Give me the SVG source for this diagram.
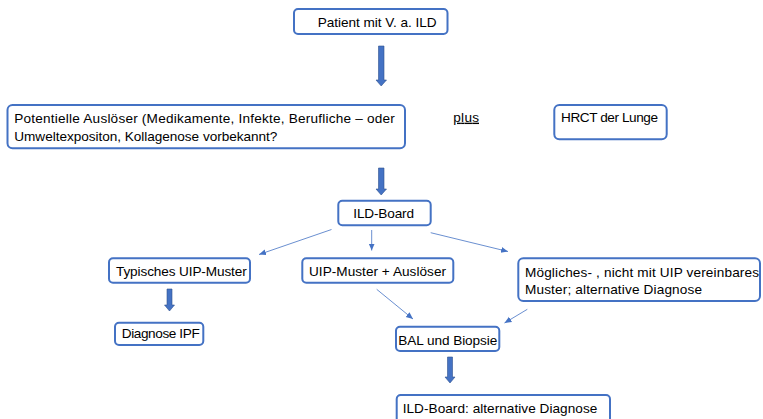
<svg xmlns="http://www.w3.org/2000/svg" width="763" height="419" viewBox="0 0 763 419">
<style>
.box{fill:#fff;stroke:#4472C4;stroke-width:2}
.t{font-family:"Liberation Sans","Open Sans",sans-serif;font-size:13.6px;fill:#000}
.thin{stroke:#4472C4;stroke-width:0.8;fill:none}
.fat{fill:#4472C4;stroke:#2F528F;stroke-width:0.6}
</style>
<defs>
<marker id="ah" markerWidth="8" markerHeight="8" refX="7" refY="4" orient="auto" markerUnits="userSpaceOnUse">
<path d="M0,1 L7,4 L0,7 Z" fill="#4472C4"/>
</marker>
</defs>
<rect width="763" height="419" fill="#fff"/>
<g id="connectors">
<path class="fat" d="M378.5,46 H384 V80 H386.5 L381.2,86 L376,80 H378.5 Z"/>
<path class="fat" d="M378.5,168 H384 V189 H386.5 L381.2,195 L376,189 H378.5 Z"/>
<path class="fat" d="M167,289 H172 V305 H174.5 L169.5,311 L164.5,305 H167 Z"/>
<path class="fat" d="M447.5,357 H452.5 V377 H455 L450,383 L445,377 H447.5 Z"/>
<line class="thin" x1="331.5" y1="229.5" x2="259" y2="254.5" marker-end="url(#ah)"/>
<line class="thin" x1="371.7" y1="230" x2="371.7" y2="250.5" marker-end="url(#ah)"/>
<line class="thin" x1="430.7" y1="232.7" x2="508" y2="251.5" marker-end="url(#ah)"/>
<line class="thin" x1="376.7" y1="289.3" x2="413" y2="319" marker-end="url(#ah)"/>
<line class="thin" x1="527.3" y1="309.3" x2="504.5" y2="323" marker-end="url(#ah)"/>
</g>
<g id="patient">
<rect class="box" x="294" y="9" width="153.5" height="25" rx="4"/>
<text class="t" x="317.7" y="27" textLength="119">Patient mit V. a. ILD</text>
</g>
<g id="ausloeser">
<rect class="box" x="7.5" y="105" width="397.5" height="43.3" rx="5"/>
<text class="t" x="14.3" y="123.3" textLength="380.5">Potentielle Auslöser (Medikamente, Infekte, Berufliche – oder</text>
<text class="t" x="14.3" y="140.5" textLength="263">Umweltexpositon, Kollagenose vorbekannt?</text>
</g>
<g id="plus">
<text class="t" x="453.3" y="121.7" textLength="25.7" text-decoration="underline">plus</text>
</g>
<g id="hrct">
<rect class="box" x="554.3" y="105" width="112.4" height="34.3" rx="5"/>
<text class="t" x="561" y="122" textLength="97">HRCT der Lunge</text>
</g>
<g id="ildboard">
<rect class="box" x="338.3" y="200.7" width="92.4" height="24.6" rx="4"/>
<text class="t" x="353.3" y="218" textLength="60.7">ILD-Board</text>
</g>
<g id="typisch">
<rect class="box" x="109" y="258.3" width="141" height="24.4" rx="4"/>
<text class="t" x="116" y="275.5" textLength="130.7">Typisches UIP-Muster</text>
</g>
<g id="uipausl">
<rect class="box" x="302.3" y="258.3" width="151" height="24.4" rx="4"/>
<text class="t" x="309" y="275.5" textLength="137">UIP-Muster + Auslöser</text>
</g>
<g id="moeglich">
<rect class="box" x="518.3" y="258.3" width="241.7" height="42.7" rx="5"/>
<text class="t" x="525" y="277" textLength="234">Mögliches- , nicht mit UIP vereinbares</text>
<text class="t" x="525" y="293.5" textLength="177">Muster; alternative Diagnose</text>
</g>
<g id="ipf">
<rect class="box" x="115" y="322.7" width="88.3" height="22.3" rx="4"/>
<text class="t" x="121.7" y="338" textLength="78">Diagnose IPF</text>
</g>
<g id="bal">
<rect class="box" x="396" y="326.7" width="103.3" height="24.3" rx="4"/>
<text class="t" x="398.3" y="344.5" textLength="99">BAL und Biopsie</text>
</g>
<g id="altdiag">
<rect class="box" x="396.7" y="395" width="213.3" height="30" rx="4"/>
<text class="t" x="402.7" y="412.5" textLength="194.6">ILD-Board: alternative Diagnose</text>
</g>
</svg>
